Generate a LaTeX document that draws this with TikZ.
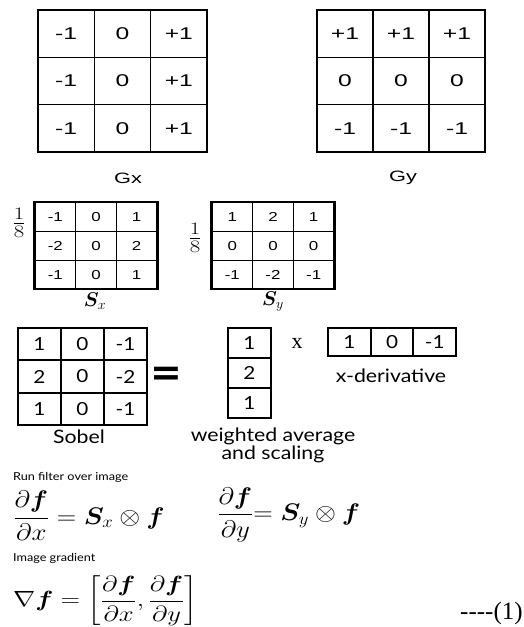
\RequirePackage{fix-cm}
\documentclass[tikz,border=0pt]{standalone}
\usepackage{amsmath}
\usepackage{graphicx}
\usepackage{fontspec}
\usepackage{bm}
\newfontfamily\arialw[FakeStretch=1.45]{Liberation Sans}
\newfontfamily\arials[FakeStretch=1.3]{Liberation Sans}
\newfontfamily\gillf[FakeStretch=1.15]{Lato}
\newfontfamily\timesf{Liberation Serif}
\newfontfamily\dejaf{DejaVu Sans}
\tikzset{
  gcell/.style={draw, line width=1.2pt, minimum width=56.33pt, minimum height=47.33pt, inner sep=0pt,
    font=\arialw\fontsize{17}{17}\selectfont},
  scell/.style={draw, line width=0.8pt, minimum width=40.67pt, minimum height=28.83pt, inner sep=0pt,
    font=\arials\fontsize{13}{13}\selectfont},
  sobcell/.style={draw, line width=1.8pt, minimum width=43pt, minimum height=32.33pt, inner sep=0pt,
    font=\gillf\fontsize{18}{18}\selectfont},
  colcell/.style={draw, line width=1.8pt, minimum width=43pt, minimum height=30pt, inner sep=0pt,
    font=\gillf\fontsize{18}{18}\selectfont},
  rowcell/.style={draw, line width=1.8pt, minimum width=42.67pt, minimum height=28pt, inner sep=0pt,
    font=\gillf\fontsize{18}{18}\selectfont},
  glabel/.style={inner sep=0pt, font=\arialw\fontsize{15}{15}\selectfont},
  gilllabel/.style={inner sep=0pt, font=\gillf\fontsize{18.5}{17}\selectfont, align=center},
  smalllabel/.style={inner sep=0pt, anchor=west, font=\gillf\fontsize{11}{11}\selectfont},
  mathlabel/.style={inner sep=0pt, font=\fontsize{20}{24}\selectfont},
  fraclabel/.style={inner sep=0pt, font=\fontsize{25}{28}\selectfont},
  eqn/.style={inner sep=0pt, anchor=west, font=\fontsize{24}{29}\selectfont},
  outer/.style={line width=2.2pt},
}
\begin{document}
\begin{tikzpicture}[x=1pt,y=-1pt]
\useasboundingbox (0,0) rectangle (523,627);
\fill[white] (0,0) rectangle (523,627);

% Gx
\foreach \r in {1,2,3}{
  \node[gcell] (gx-\r-1) at (66.17,{10+47.33*(\r-0.5)}) {-1};
  \node[gcell] (gx-\r-2) at (122.5,{10+47.33*(\r-0.5)}) {0};
  \node[gcell] (gx-\r-3) at (178.83,{10+47.33*(\r-0.5)}) {+1};
}
\node[glabel] (gxl) at (128,178) {Gx};

% Gy
\foreach \c in {1,2,3}{
  \node[gcell, minimum width=56pt] (gy-1-\c) at ({317+56*(\c-0.5)},33.67) {+1};
  \node[gcell, minimum width=56pt] (gy-2-\c) at ({317+56*(\c-0.5)},81) {0};
  \node[gcell, minimum width=56pt] (gy-3-\c) at ({317+56*(\c-0.5)},128.33) {-1};
}
\node[glabel] (gyl) at (403,178) {Gy};

% Sx
\foreach \r/\a/\b/\d in {1/-1/0/1, 2/-2/0/2, 3/-1/0/1}{
  \node[scell] (sx-\r-1) at (55.33,{202.5+28.83*(\r-0.5)}) {\a};
  \node[scell] (sx-\r-2) at (96,{202.5+28.83*(\r-0.5)}) {\b};
  \node[scell] (sx-\r-3) at (136.67,{202.5+28.83*(\r-0.5)}) {\d};
}
\draw[outer] (sx-1-1.north west) rectangle (sx-3-3.south east);
\node[fraclabel] (sxf) at (19,223) {\scalebox{1.3}[1]{$\frac{1}{8}$}};
\node[mathlabel] (sxl) at (95,301) {$\bm{S}_x$};

% Sy
\foreach \r/\a/\b/\d in {1/1/2/1, 2/0/0/0, 3/-1/-2/-1}{
  \node[scell] (sy-\r-1) at (232.33,{202.5+28.83*(\r-0.5)}) {\a};
  \node[scell] (sy-\r-2) at (273,{202.5+28.83*(\r-0.5)}) {\b};
  \node[scell] (sy-\r-3) at (313.67,{202.5+28.83*(\r-0.5)}) {\d};
}
\draw[outer] (sy-1-1.north west) rectangle (sy-3-3.south east);
\node[fraclabel] (syf) at (195,238) {\scalebox{1.3}[1]{$\frac{1}{8}$}};
\node[mathlabel] (syl) at (273,301) {$\bm{S}_y$};

% Sobel
\foreach \r/\a/\b/\d in {1/1/0/-1, 2/2/0/-2, 3/1/0/-1}{
  \node[sobcell] (sb-\r-1) at (39.5,{328+32.33*(\r-0.5)}) {\a};
  \node[sobcell] (sb-\r-2) at (82.5,{328+32.33*(\r-0.5)}) {\b};
  \node[sobcell] (sb-\r-3) at (125.5,{328+32.33*(\r-0.5)}) {\d};
}
\node[gilllabel] (sbl) at (79,437) {Sobel};
\node[inner sep=0pt, font=\dejaf\bfseries\fontsize{38}{38}\selectfont] (eqs) at (166,376) {=};

% column vector
\node[colcell] (cv-1) at (249.5,343) {1};
\node[colcell] (cv-2) at (249.5,373) {2};
\node[colcell] (cv-3) at (249.5,403) {1};
\node[gilllabel] (wal) at (273,445) {weighted average\\and scaling};

\node[inner sep=0pt, font=\timesf\fontsize{22}{22}\selectfont] (times) at (297,343) {x};

% row vector
\node[rowcell] (rv-1) at (349.33,342) {1};
\node[rowcell] (rv-2) at (392,342) {0};
\node[rowcell] (rv-3) at (434.67,342) {-1};
\node[gilllabel] (xdl) at (391,376) {x-derivative};

% equations
\node[smalllabel] (runl) at (13,477) {Run filter over image};
\node[eqn] (eq1) at (13,516) {\scalebox{1.12}[1]{$\displaystyle \frac{\partial \bm{f}}{\partial x} = \bm{S}_x \otimes \bm{f}$}};
\node[eqn] (eq2) at (217,515) {\scalebox{1.12}[1]{$\displaystyle \frac{\partial \bm{f}}{\partial y}\mkern-5mu = \bm{S}_y \otimes \bm{f}$}};
\node[smalllabel] (imgl) at (13,558) {Image gradient};
\node[eqn, font=\fontsize{22}{27}\selectfont] (eq3) at (13,601) {\scalebox{1.21}[1]{$\displaystyle \nabla \bm{f} = \left[\frac{\partial \bm{f}}{\partial x}, \frac{\partial \bm{f}}{\partial y}\right]$}};
\node[inner sep=0pt, anchor=west, font=\timesf\fontsize{25}{25}\selectfont] (eqnum) at (460,613) {----(1)};
\end{tikzpicture}
\end{document}
